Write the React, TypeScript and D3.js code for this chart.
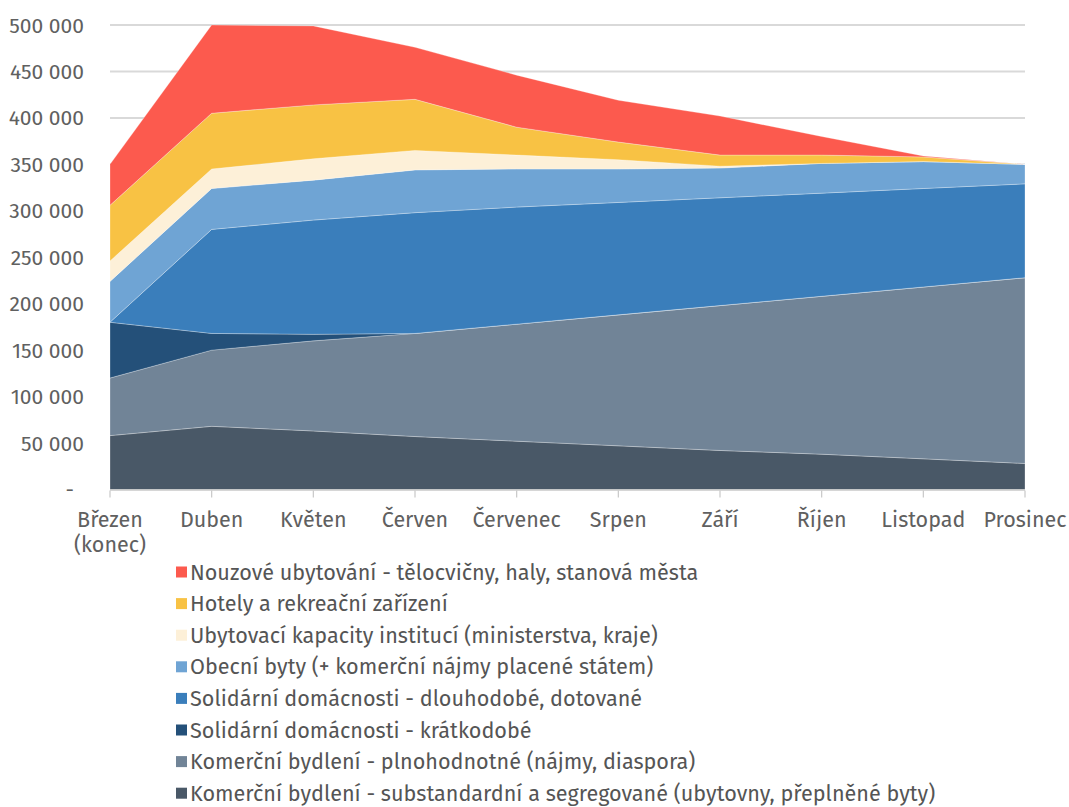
import React, { useEffect, useRef } from 'react';
import * as d3 from 'd3';

const months = ['Březen', 'Duben', 'Květen', 'Červen', 'Červenec', 'Srpen', 'Září', 'Říjen', 'Listopad', 'Prosinec'];

// values in thousands, bottom of the stack first
const substandardni = [58, 68, 63, 57, 52, 47, 42, 38, 33, 28];
const plnohodnotne = [62, 82, 97, 111, 126, 141, 156, 170, 185, 200];
const kratkodobe = [60, 18, 7, 0, 0, 0, 0, 0, 0, 0];
const dlouhodobe = [0, 112, 123, 130, 126, 121, 116, 111, 106, 101];
const obecniByty = [44, 44, 43, 46, 41, 36, 32, 32, 29, 21];
const instituce = [22, 21, 23, 21, 15, 10, 2, 0, 0, 0];
const hotely = [60, 60, 58, 55, 30, 19, 12, 9, 5, 0];
const nouzove = [44, 95, 85, 56, 56, 45, 42, 20, 1, 0];

const yTicks = [0, 50000, 100000, 150000, 200000, 250000, 300000, 350000, 400000, 450000, 500000];

const series = [
  { key: 'substandardni', label: 'Komerční bydlení - substandardní a segregované (ubytovny, přeplněné byty)', color: '#495867', values: substandardni },
  { key: 'plnohodnotne', label: 'Komerční bydlení - plnohodnotné (nájmy, diaspora)', color: '#718497', values: plnohodnotne },
  { key: 'kratkodobe', label: 'Solidární domácnosti - krátkodobé', color: '#245079', values: kratkodobe },
  { key: 'dlouhodobe', label: 'Solidární domácnosti - dlouhodobé, dotované', color: '#3a7ebb', values: dlouhodobe },
  { key: 'obecni', label: 'Obecní byty (+ komerční nájmy placené státem)', color: '#6fa4d4', values: obecniByty },
  { key: 'instituce', label: 'Ubytovací kapacity institucí (ministerstva, kraje)', color: '#fdf0d8', values: instituce },
  { key: 'hotely', label: 'Hotely a rekreační zařízení', color: '#f8c244', values: hotely },
  { key: 'nouzove', label: 'Nouzové ubytování - tělocvičny, haly, stanová města', color: '#fc5a4e', values: nouzove },
];

const W = 1069;
const H = 807;
const FONT = "'Fira Sans', 'Open Sans', 'Noto Sans', sans-serif";
const TEXT = '#606060';

function App() {
  const ref = useRef<SVGSVGElement>(null);

  useEffect(() => {
    const svg = d3.select(ref.current);
    svg.selectAll('*').remove();

    const x = d3.scalePoint<string>().domain(months).range([110, 1025]);
    const y = d3.scaleLinear().domain([0, 500000]).range([489.5, 25]);

    const table = months.map((m, i) => {
      const row: any = { month: m };
      series.forEach(s => { row[s.key] = s.values[i] * 1000; });
      return row;
    });

    // gridlines
    svg.append('g')
      .selectAll('line')
      .data(yTicks.filter(d => d > 0))
      .enter()
      .append('line')
      .attr('x1', 110)
      .attr('x2', 1025)
      .attr('y1', d => y(d))
      .attr('y2', d => y(d))
      .style('stroke', '#d9d9d9')
      .style('stroke-width', 2);

    // stacked areas
    const stack = d3.stack<any>().keys(series.map(s => s.key));
    const layers = stack(table);
    const area = d3.area<any>()
      .x(d => x(d.data.month) as number)
      .y0(d => y(d[0]))
      .y1(d => y(d[1]));

    svg.append('g')
      .selectAll('path')
      .data(layers)
      .enter()
      .append('path')
      .attr('d', d => area(d) as string)
      .style('fill', (d, i) => series[i].color)
      .style('stroke', 'rgba(255,255,255,0.35)')
      .style('stroke-width', 0.8);

    // x axis line and ticks
    svg.append('line')
      .attr('x1', 110).attr('x2', 1025)
      .attr('y1', y(0) + 0.5).attr('y2', y(0) + 0.5)
      .style('stroke', '#c8c8c8')
      .style('stroke-width', 1.5);

    svg.append('g')
      .selectAll('line')
      .data(months)
      .enter()
      .append('line')
      .attr('x1', d => x(d) as number)
      .attr('x2', d => x(d) as number)
      .attr('y1', y(0) + 1)
      .attr('y2', y(0) + 8)
      .style('stroke', '#c8c8c8')
      .style('stroke-width', 1.2);

    svg.append('g')
      .selectAll('text')
      .data(months)
      .enter()
      .append('text')
      .attr('x', d => x(d) as number)
      .attr('y', 527)
      .style('font-family', FONT)
      .style('font-size', '21.5px')
      .style('fill', TEXT)
      .style('text-anchor', 'middle')
      .text(d => d);

    svg.append('text')
      .attr('x', x(months[0]) as number)
      .attr('y', 552)
      .style('font-family', FONT)
      .style('font-size', '21.5px')
      .style('fill', TEXT)
      .style('text-anchor', 'middle')
      .text('(konec)');

    // y labels
    svg.append('g')
      .selectAll('text')
      .data(yTicks)
      .enter()
      .append('text')
      .attr('x', d => d === 0 ? 74 : 84)
      .attr('y', d => y(d) + 7.5)
      .style('font-family', FONT)
      .style('font-size', '21px')
      .style('fill', TEXT)
      .style('text-anchor', 'end')
      .text(d => d === 0 ? '-' : d3.format(',')(d).replace(/,/g, ' '));

    // legend, top item is the top of the stack
    const legend = svg.append('g')
      .selectAll('g')
      .data(series.slice().reverse())
      .enter()
      .append('g')
      .attr('transform', (d, i) => `translate(176, ${572 + i * 31.6})`);

    legend.append('rect')
      .attr('x', 0)
      .attr('y', -5.5)
      .attr('width', 11)
      .attr('height', 11)
      .style('fill', d => d.color);

    legend.append('text')
      .attr('x', 14)
      .attr('y', 7.5)
      .style('font-family', FONT)
      .style('font-size', '21.6px')
      .style('fill', '#555')
      .text(d => d.label);
  }, []);

  return (
    <svg ref={ref} width={W} height={H}
      style={{ position: 'absolute', left: 0, top: 0, background: '#fff' }} />
  );
}

export default App;
